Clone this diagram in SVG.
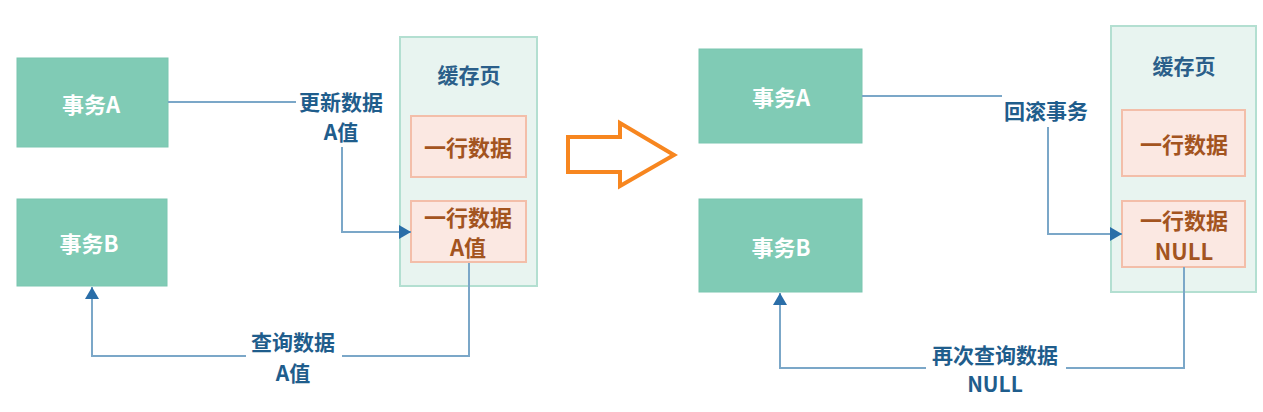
<svg xmlns="http://www.w3.org/2000/svg" width="1263" height="412" viewBox="0 0 1263 412">
<defs>
<style>
.tx{fill:#80cbb5;stroke:#7ac6b0;stroke-width:1}
.tt{font-family:"Noto Sans CJK SC","Noto Sans",sans-serif;font-weight:bold;font-size:22px;fill:#ffffff;text-anchor:middle;dominant-baseline:central}
.page{fill:#e8f4f0;stroke:#b3dfd1;stroke-width:2}
.pt{font-family:"Noto Sans CJK SC","Noto Sans",sans-serif;font-weight:bold;font-size:21px;fill:#2b5f8a;text-anchor:middle;dominant-baseline:central}
.row{fill:#fbe8e2;stroke:#f3bea9;stroke-width:2}
.rt{font-family:"Noto Sans CJK SC","Noto Sans",sans-serif;font-weight:bold;font-size:22px;fill:#a3541f;text-anchor:middle;dominant-baseline:central}
.ln{fill:none;stroke:#7ba7c8;stroke-width:2}
.lb{font-family:"Noto Sans CJK SC","Noto Sans",sans-serif;font-weight:bold;font-size:21px;fill:#1f5d8c;text-anchor:middle;dominant-baseline:central}
.bg{fill:#ffffff}
</style>
<marker id="ah" markerUnits="userSpaceOnUse" markerWidth="13" markerHeight="14" refX="12" refY="7" orient="auto">
<path d="M0,0 L12,7 L0,14 z" fill="#2a6ea8"/>
</marker>
</defs>
<rect width="1263" height="412" fill="#ffffff"/>

<!-- Left panel -->
<g id="txA-left"><rect class="tx" x="17" y="58" width="151" height="89"/><text class="tt" x="91" y="103">事务A</text></g>
<g id="txB-left"><rect class="tx" x="17" y="199" width="150" height="87"/><text class="tt" x="89" y="242">事务B</text></g>
<g id="page-left"><rect class="page" x="400" y="37" width="137" height="249"/><text class="pt" x="469" y="74">缓存页</text></g>
<g id="row1-left"><rect class="row" x="411" y="116" width="115" height="61"/><text class="rt" x="468" y="146">一行数据</text></g>
<g id="row2-left"><rect class="row" x="411" y="201" width="115" height="61"/><text class="rt" x="468" y="216">一行数据</text><text class="rt" x="468" y="246">A值</text></g>

<!-- Right panel -->
<g id="txA-right"><rect class="tx" x="699" y="49" width="163" height="94"/><text class="tt" x="781" y="96">事务A</text></g>
<g id="txB-right"><rect class="tx" x="699" y="199" width="163" height="93"/><text class="tt" x="781" y="246">事务B</text></g>
<g id="page-right"><rect class="page" x="1111" y="26" width="145" height="266"/><text class="pt" x="1184" y="65">缓存页</text></g>
<g id="row1-right"><rect class="row" x="1122" y="110" width="123" height="66"/><text class="rt" x="1184" y="143">一行数据</text></g>
<g id="row2-right"><rect class="row" x="1122" y="201" width="123" height="66"/><text class="rt" x="1184" y="219">一行数据</text><text class="rt" x="1184" y="250">NULL</text></g>

<!-- Big orange arrow -->
<g id="transition">
<polygon points="568,137 620,137 620,123 674,155 620,186 620,172 568,172" fill="#ffffff" stroke="#f7861f" stroke-width="4" stroke-linejoin="miter"/>
</g>

<g id="connectors">
<!-- left -->
<path class="ln" d="M168,102 H296"/>
<path class="ln" d="M342,147 V232 H411" marker-end="url(#ah)"/>
<path class="ln" d="M469,263 V356 H92 V287" marker-end="url(#ah)"/>
<rect class="bg" x="246" y="328" width="96" height="56"/>
<text class="lb" x="341" y="101">更新数据</text>
<text class="lb" x="341" y="131">A值</text>
<text class="lb" x="293" y="341">查询数据</text>
<text class="lb" x="293" y="372">A值</text>
<!-- right -->
<path class="ln" d="M862,96 H1002"/>
<path class="ln" d="M1048,127 V234 H1122" marker-end="url(#ah)"/>
<path class="ln" d="M1184,267 V368 H780 V293" marker-end="url(#ah)"/>
<rect class="bg" x="926" y="340" width="140" height="56"/>
<text class="lb" x="1046" y="110">回滚事务</text>
<text class="lb" x="995" y="354">再次查询数据</text>
<text class="lb" x="995" y="383">NULL</text>
</g>
</svg>
